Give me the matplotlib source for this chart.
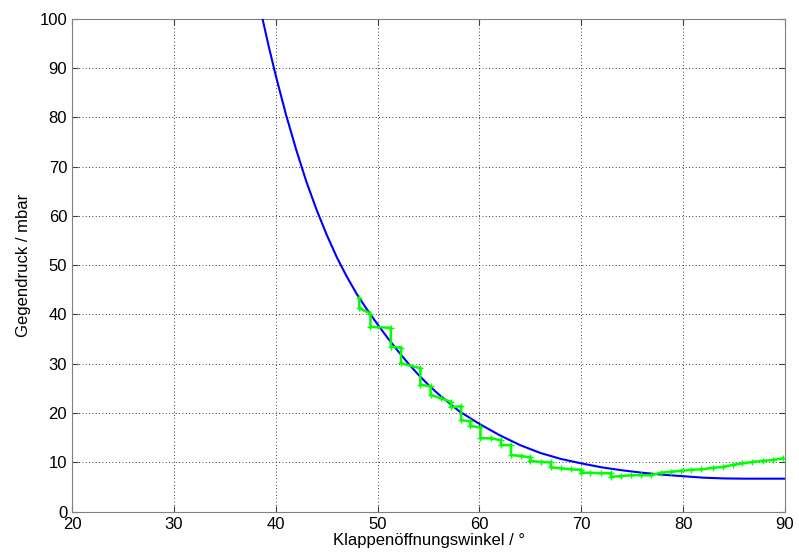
import matplotlib
matplotlib.use("Agg")
import matplotlib.pyplot as plt

plt.rcParams['font.family'] = ['Liberation Sans', 'DejaVu Sans']

# fitted curve (blue)
fit_x = [38.7, 39.3, 40, 41, 42, 43, 44, 45, 46, 47, 48, 49, 50, 51, 52,
         53, 54, 55, 56, 58, 60, 62, 64, 66, 68, 70, 72, 74, 76, 78, 80,
         82, 84, 86, 88, 90]
fit_y = [100, 94.5, 88.5, 80.6, 73.5, 67.0, 61.3, 56.2, 51.6, 47.6, 44.0,
         40.9, 38.0, 35.2, 32.6, 30.1, 27.8, 25.7, 23.8, 20.4, 17.8, 15.5,
         13.5, 11.9, 10.7, 9.8, 9.0, 8.4, 7.9, 7.5, 7.2, 6.9, 6.75, 6.7,
         6.7, 6.7]

# measured data (green)
meas_x = [48.2, 48.2, 49.3, 49.3, 51.3, 51.3, 52.3, 52.3, 54.2, 54.2,
          55.2, 55.2, 56.2, 57.2, 57.2, 58.2, 58.2, 59.1, 59.1, 60.1,
          60.1, 61.1, 62.1, 62.1, 63.1, 63.1, 64.1, 65.0, 65.0, 66.0,
          67.0, 67.0, 68.0, 69.0, 70.0, 70.0, 70.9, 71.9, 72.9, 72.9,
          73.9, 74.9, 75.9, 76.8, 77.8, 78.8, 79.8, 80.8, 81.8, 82.9,
          83.9, 84.9, 85.8, 86.8, 87.8, 88.8, 89.8]
meas_y = [43.4, 41.3, 40.2, 37.5, 37.3, 33.5, 33.3, 30.1, 29.1, 25.8,
          25.4, 23.7, 23.0, 22.3, 21.2, 21.4, 18.6, 18.3, 17.4, 17.1,
          14.9, 14.9, 14.5, 13.5, 13.5, 11.5, 11.3, 11.0, 10.3, 10.1,
          10.0, 9.0, 8.8, 8.6, 8.5, 7.9, 7.9, 7.8, 7.8, 7.1,
          7.2, 7.4, 7.4, 7.4, 7.9, 8.1, 8.3, 8.5, 8.6, 8.9,
          9.1, 9.5, 9.8, 10.1, 10.3, 10.5, 10.8]

fig = plt.figure(figsize=(7.99, 5.59), dpi=100)
ax = fig.add_axes([0.0901, 0.0846, 0.8924, 0.882])

ax.plot(fit_x, fit_y, color='#0000ff', lw=1.5, zorder=3)
ax.plot(meas_x, meas_y, color='#00ff00', lw=1.8, marker='+', ms=4,
        mew=1.0, zorder=4)

ax.set_xlim(20, 90)
ax.set_ylim(0, 100)
ax.set_xticks(range(20, 91, 10))
ax.set_yticks(range(0, 101, 10))
ax.grid(True, color='black', linestyle=(0, (1, 3)), linewidth=0.6)
ax.tick_params(direction='in', top=True, right=True, labelsize=12,
               length=4, color='#404040')
for s in ax.spines.values():
    s.set_color('#808080')
    s.set_linewidth(0.8)

ax.set_xlabel('Klappenöffnungswinkel / °', fontsize=12, labelpad=1)
ax.set_ylabel('Gegendruck / mbar', fontsize=12, labelpad=6)

fig.savefig('out.png', dpi=100)
